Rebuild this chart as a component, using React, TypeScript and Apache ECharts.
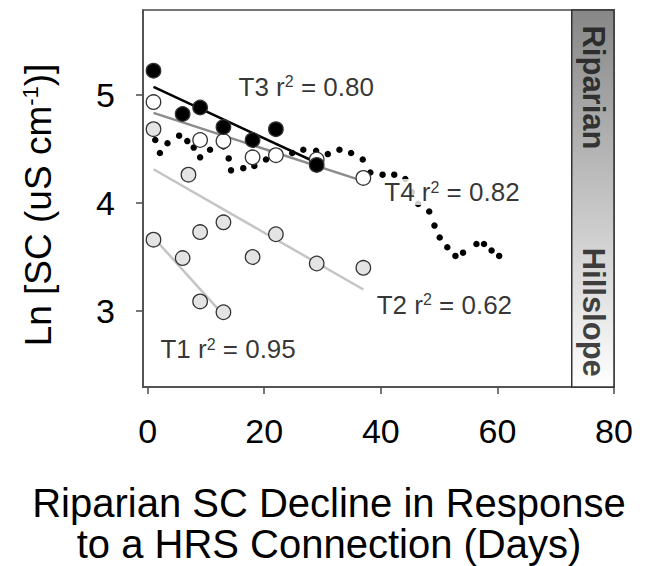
import React, { useEffect, useRef } from 'react';
import * as echarts from 'echarts';

const FONT = '"Liberation Sans", Arial, Helvetica, sans-serif';

// Axis ticks
const xTicks = [0, 20, 40, 60, 80];
const yTicks = [3, 4, 5];

// T3 (filled black)
const t3Days = [1, 6, 9, 13, 18, 22, 29];
const t3Ln = [5.22, 4.82, 4.88, 4.7, 4.58, 4.68, 4.35];
// T4 (open)
const t4Days = [1, 9, 13, 18, 22, 29, 37];
const t4Ln = [4.93, 4.58, 4.57, 4.42, 4.44, 4.4, 4.23];
// T2 (light grey)
const t2Days = [1, 7, 9, 13, 18, 22, 29, 37];
const t2Ln = [4.68, 4.26, 3.73, 3.82, 3.5, 3.71, 3.44, 3.4];
// T1 (light grey)
const t1Days = [1, 6, 9, 13];
const t1Ln = [3.66, 3.49, 3.09, 2.99];

// Regression lines (endpoints)
const t3FitDays = [1, 29];
const t3FitLn = [5.07, 4.37];
const t4FitDays = [1, 37];
const t4FitLn = [4.83, 4.2];
const t2FitDays = [1, 37];
const t2FitLn = [4.31, 3.2];
const t1FitDays = [1, 12.9];
const t1FitLn = [3.68, 2.97];

// Riparian continuous record (small dots)
const ripDays = [1.3, 2.1, 3.4, 5.4, 6.8, 7.9, 9.0, 10.7, 13.0, 13.9, 14.3, 16.4, 18.3, 20.3, 22.5, 24.8, 26.7, 28.9, 30.9, 32.9, 34.9, 36.9, 38.2, 40.3, 42.3, 44.2, 45.3, 46.4, 48.3, 49.2, 50.1, 51.4, 52.8, 54.1, 56.4, 57.7, 59.0, 60.3];
const ripLn = [4.58, 4.46, 4.55, 4.62, 4.57, 4.51, 4.42, 4.49, 4.52, 4.41, 4.3, 4.32, 4.34, 4.4, 4.43, 4.46, 4.49, 4.48, 4.45, 4.49, 4.46, 4.4, 4.28, 4.26, 4.26, 4.22, 4.1, 3.99, 3.92, 3.79, 3.68, 3.59, 3.51, 3.54, 3.62, 3.62, 3.56, 3.51];

// Annotations
const annNames = ['T3', 'T4', 'T2', 'T1'];
const annR2 = ['0.80', '0.82', '0.62', '0.95'];
const annDays = [27.2, 52.2, 50.9, 13.8];
const annLn = [5.07, 4.1, 3.06, 2.65];

// Gradient band
const bandDays = [72.75, 80];
const bandLn = [2.3, 5.78];
const bandLabels = ['Riparian', 'Hillslope'];
const bandLabelDays = [76.4, 76.4];
const bandLabelLn = [5.065, 2.99];

const zip = (a: number[], b: number[]) => a.map((v, i) => [v, b[i]]);

export default function App() {
  const ref = useRef<HTMLDivElement>(null);
  useEffect(() => {
    const chart = echarts.init(ref.current!, null, { renderer: 'svg' });
    const axisColor = '#4a4a4a';
    const fitLine = (d: number[], l: number[], color: string) => ({
      type: 'line',
      data: zip(d, l),
      symbol: 'none',
      lineStyle: { color, width: 2.5 },
      z: 2,
      silent: true,
    });
    const circles = (d: number[], l: number[], fill: string, z: number) => ({
      type: 'scatter',
      data: zip(d, l),
      symbolSize: 14.5,
      itemStyle: { color: fill, borderColor: '#333', borderWidth: 1.3, opacity: 1 },
      z,
      silent: true,
    });
    chart.setOption({
      animation: false,
      backgroundColor: '#fff',
      grid: {
        left: 143,
        right: 46,
        top: 10,
        bottom: 179,
        show: true,
        borderColor: axisColor,
        borderWidth: 1.5,
        backgroundColor: 'transparent',
      },
      xAxis: {
        type: 'value',
        min: -0.8,
        max: 80,
        splitLine: { show: false },
        axisLine: { show: true, onZero: false, lineStyle: { color: axisColor, width: 1.5 } },
        axisTick: { show: true, inside: false, length: 7, customValues: xTicks, lineStyle: { color: axisColor, width: 1.5 } },
        axisLabel: { customValues: xTicks, fontSize: 34, color: '#000', margin: 27, fontFamily: FONT },
      },
      yAxis: {
        type: 'value',
        min: 2.3,
        max: 5.78,
        splitLine: { show: false },
        axisLine: { show: true, onZero: false, lineStyle: { color: axisColor, width: 1.5 } },
        axisTick: { show: true, inside: false, length: 7, customValues: yTicks, lineStyle: { color: axisColor, width: 1.5 } },
        axisLabel: { customValues: yTicks, fontSize: 34, color: '#000', margin: 28, fontFamily: FONT },
      },
      series: [
        {
          type: 'scatter',
          data: zip(bandLabelDays, bandLabelLn),
          symbolSize: 1,
          itemStyle: { color: 'transparent' },
          silent: true,
          z: 1,
          label: {
            show: true,
            position: 'inside',
            rotate: -90,
            formatter: (p: any) => bandLabels[p.dataIndex],
            fontSize: 31,
            fontWeight: 'bold',
            color: '#111',
            fontFamily: FONT,
          },
          markArea: {
            silent: true,
            itemStyle: {
              color: new echarts.graphic.LinearGradient(0, 0, 0, 1, [
                { offset: 0, color: '#878787' },
                { offset: 1, color: '#ffffff' },
              ]),
              borderColor: '#333',
              borderWidth: 1.5,
            },
            data: [[{ xAxis: bandDays[0], yAxis: bandLn[1] }, { xAxis: bandDays[1], yAxis: bandLn[0] }]],
          },
        },
        fitLine(t1FitDays, t1FitLn, '#c4c4c4'),
        fitLine(t2FitDays, t2FitLn, '#c4c4c4'),
        fitLine(t4FitDays, t4FitLn, '#8c8c8c'),
        fitLine(t3FitDays, t3FitLn, '#000000'),
        {
          type: 'scatter',
          data: zip(ripDays, ripLn),
          symbolSize: 6.5,
          itemStyle: { color: '#000', opacity: 1 },
          z: 3,
          silent: true,
        },
        circles(t1Days, t1Ln, '#e4e4e4', 4),
        circles(t2Days, t2Ln, '#e4e4e4', 4),
        circles(t4Days, t4Ln, '#ffffff', 5),
        circles(t3Days, t3Ln, '#000000', 6),
        {
          type: 'scatter',
          data: zip(annDays, annLn),
          symbolSize: 1,
          itemStyle: { color: 'transparent' },
          silent: true,
          z: 10,
          label: {
            show: true,
            position: 'inside',
            formatter: (p: any) => `{a|${annNames[p.dataIndex]} r}{s|2}{a| = ${annR2[p.dataIndex]}}`,
            backgroundColor: '#fff',
            padding: [0, 2],
            rich: {
              a: { fontSize: 26, color: '#000', fontFamily: FONT },
              s: { fontSize: 16, color: '#000', fontFamily: FONT, verticalAlign: 'top' },
            },
          },
        },
      ],
      graphic: [
        {
          type: 'text',
          x: 38,
          y: 205,
          rotation: Math.PI / 2,
          style: {
            text: '{a|Ln [SC (uS cm}{s|-1}{a|)]}',
            align: 'center',
            verticalAlign: 'middle',
            rich: {
              a: { fontSize: 37, fill: '#000', fontFamily: FONT },
              s: { fontSize: 22, fill: '#000', fontFamily: FONT, verticalAlign: 'top' },
            },
          },
        },
        {
          type: 'text',
          x: 329,
          y: 503,
          style: {
            text: 'Riparian SC Decline in Response',
            fontSize: 40,
            align: 'center',
            verticalAlign: 'middle',
            fill: '#000',
            fontFamily: FONT,
          },
        },
        {
          type: 'text',
          x: 329,
          y: 544,
          style: {
            text: 'to a HRS Connection (Days)',
            fontSize: 40,
            align: 'center',
            verticalAlign: 'middle',
            fill: '#000',
            fontFamily: FONT,
          },
        },
      ],
    });
    return () => chart.dispose();
  }, []);
  return (
    <div
      ref={ref}
      style={{ position: 'fixed', left: 0, top: 0, width: 660, height: 566, background: '#fff' }}
    />
  );
}
